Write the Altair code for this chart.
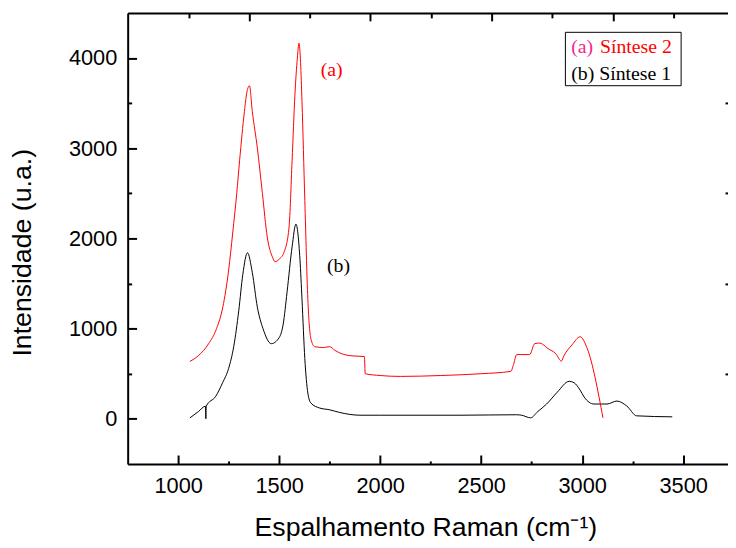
import altair as alt
import pandas as pd

# ---- data ----
red_x = [1058, 1100, 1150, 1190, 1221, 1250, 1270, 1290, 1304, 1328,
         1340, 1353, 1367, 1392, 1417, 1441, 1466, 1480, 1500, 1525,
         1549, 1564, 1578, 1590, 1598, 1606, 1613, 1627, 1642, 1657,
         1676, 1720, 1750, 1775, 1850, 1922, 1926, 2000, 2100, 2300,
         2500, 2647, 2660, 2676, 2740, 2765, 2790, 2830, 2870, 2897,
         2910, 2950, 2990, 3025, 3103]
red_y = [636, 700, 830, 1000, 1238, 1650, 2060, 2500, 2860, 3408,
         3620, 3693, 3408, 3003, 2498, 2016, 1797, 1742, 1770, 1852,
         2126, 2860, 3594, 4000, 4164, 3950, 3518, 2422, 1326, 888,
         800, 790, 800, 760, 700, 690, 500, 480, 470, 480,
         500, 526, 600, 712, 712, 833, 840, 780, 720, 640,
         700, 820, 910, 780, 11]

blk_x = [1058, 1100, 1135, 1137, 1139, 1186, 1220, 1250, 1275, 1300,
         1320, 1343, 1367, 1392, 1420, 1461, 1500, 1520, 1539, 1564,
         1583, 1603, 1613, 1627, 1642, 1657, 1700, 1750, 1800, 1900,
         2000, 2400, 2676, 2700, 2745, 2780, 2824, 2877, 2936, 2960,
         2990, 3010, 3059, 3123, 3172, 3221, 3270, 3446]
blk_y = [10, 80, 140, 0, 140, 250, 400, 560, 800, 1200,
         1600, 1841, 1622, 1238, 1000, 833, 900, 1050, 1403, 1907,
         2159, 1764, 1326, 668, 285, 175, 120, 100, 70, 40,
         40, 40, 45, 40, 11, 80, 164, 296, 416, 400,
         318, 241, 164, 164, 197, 142, 33, 22]

x_major = [1000, 1500, 2000, 2500, 3000, 3500]
x_minor = [1250, 1750, 2250, 2750, 3250]
y_major = [0, 1000, 2000, 3000, 4000]
y_minor = [500, 1500, 2500, 3500]
top_major = [1352, 1952, 2552, 3152]
top_minor = [1052, 1652, 2252, 2852, 3452]

legend_text = ["(a)", "Síntese 2", "(b) Síntese 1"]
legend_colors = ["#f02890", "#ff0000", "#000000"]
annot_text = ["(a)", "(b)"]
annot_colors = ["#ff0000", "#000000"]

XDOM = [750, 3722]
YDOM = [-500, 4500]
W, H = 607, 456
SANS = "Liberation Sans"
SERIF = "Liberation Serif"

red_df = pd.DataFrame({"x": red_x, "y": red_y})
blk_df = pd.DataFrame({"x": blk_x, "y": blk_y})
dummy = pd.DataFrame({"x": [2000], "y": [0]})

xs = alt.Scale(domain=XDOM, nice=False, zero=False)
ys = alt.Scale(domain=YDOM, nice=False, zero=False)

# main axes: labels + domain line
x_main = alt.Axis(orient="bottom", values=x_major, format="d", ticks=False, grid=False,
                  labelFont=SANS, labelFontSize=22, labelColor="black", labelPadding=12,
                  domainColor="black", domainWidth=2,
                  title="Espalhamento Raman (cm⁻¹)", titleFont=SANS, titleFontSize=27,
                  titleFontWeight="normal", titleColor="black", titleX=301, titleY=64,
                  titleAlign="center", titleBaseline="middle")
y_main = alt.Axis(orient="left", values=y_major, format="d", ticks=False, grid=False,
                  labelFont=SANS, labelFontSize=22, labelColor="black", labelPadding=11,
                  domainColor="black", domainWidth=2,
                  title="Intensidade (u.a.)", titleFont=SANS, titleFontSize=27,
                  titleFontWeight="normal", titleColor="black", titleX=-106, titleY=242,
                  titleAlign="center", titleBaseline="middle", titleAngle=270)


def tick_axis(orient, values, size, width=2):
    return alt.Axis(orient=orient, values=values, tickSize=size, offset=-size,
                    ticks=True, tickWidth=width, tickColor="black", labels=False,
                    domain=False, grid=False, title="")


def holder(xaxis, yaxis):
    return alt.Chart(dummy).mark_point(opacity=0).encode(
        x=alt.X("x:Q", scale=xs, axis=xaxis),
        y=alt.Y("y:Q", scale=ys, axis=yaxis),
    )


black = alt.Chart(blk_df).mark_line(color="black", strokeWidth=1, interpolate="monotone").encode(
    x=alt.X("x:Q", scale=xs, axis=x_main),
    y=alt.Y("y:Q", scale=ys, axis=y_main),
)
red = alt.Chart(red_df).mark_line(color="#ff0000", strokeWidth=1, interpolate="monotone").encode(
    x=alt.X("x:Q", scale=xs, axis=None),
    y=alt.Y("y:Q", scale=ys, axis=None),
)

l_major = holder(tick_axis("bottom", x_major, 9), tick_axis("left", y_major, 9))
l_minor = holder(tick_axis("bottom", x_minor, 3), tick_axis("left", y_minor, 4))
top_dom = alt.Axis(orient="top", values=top_major, ticks=False, labels=False, grid=False,
                   domainColor="black", domainWidth=2, title="")
l_top = holder(top_dom, tick_axis("right", y_minor, 3))
l_top_major = holder(tick_axis("top", top_major, 8), None)
l_top_minor = holder(tick_axis("top", top_minor, 5), None)

# legend box
box_df = pd.DataFrame({"x": [2917], "x2": [3490], "y": [3693], "y2": [4285]})
box = alt.Chart(box_df).mark_rect(fill="white", stroke="black", strokeWidth=1).encode(
    x=alt.X("x:Q", scale=xs, axis=None), x2="x2:Q",
    y=alt.Y("y:Q", scale=ys, axis=None), y2="y2:Q",
)
leg_df = pd.DataFrame({"t": legend_text, "c": legend_colors,
                       "x": [2946, 3088, 2946], "y": [4121, 4121, 3825]})
leg = alt.Chart(leg_df).mark_text(font=SERIF, fontSize=20, align="left", baseline="middle").encode(
    x=alt.X("x:Q", scale=xs, axis=None),
    y=alt.Y("y:Q", scale=ys, axis=None),
    text="t:N",
    color=alt.Color("c:N", scale=None),
)
ann_df = pd.DataFrame({"t": annot_text, "c": annot_colors,
                       "x": [1760, 1794], "y": [3868, 1699]})
ann = alt.Chart(ann_df).mark_text(font=SERIF, fontSize=20, align="center", baseline="middle").encode(
    x=alt.X("x:Q", scale=xs, axis=None),
    y=alt.Y("y:Q", scale=ys, axis=None),
    text="t:N",
    color=alt.Color("c:N", scale=None),
)

chart = alt.layer(
    black, red, l_major, l_minor, l_top, l_top_major, l_top_minor, box, leg, ann
).resolve_axis(x="independent", y="independent").properties(
    width=W, height=H,
    autosize=alt.AutoSizeParams(type="none"),
    padding={"left": 121, "top": 2, "right": 0, "bottom": 78},
    background="white",
).configure_view(strokeWidth=0)

chart.save("out.html", embed_options={"renderer": "svg", "actions": False})
